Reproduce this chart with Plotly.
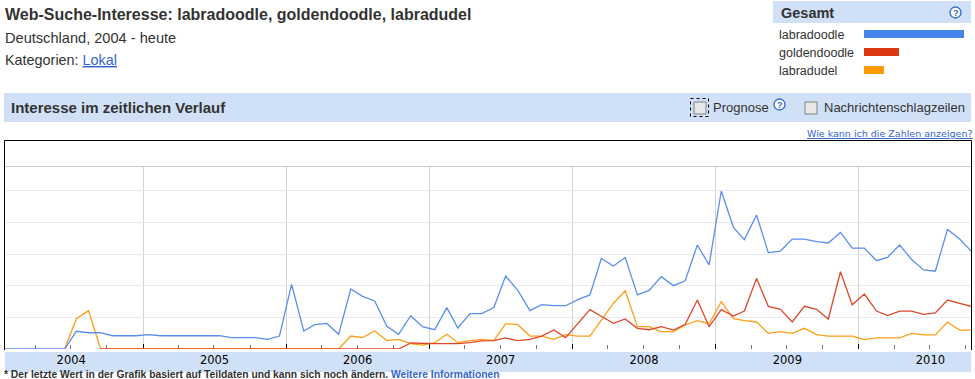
import plotly.graph_objects as go
import pandas as pd

W, H = 975, 379
months = pd.date_range("2004-01-01", periods=82, freq="MS") + pd.Timedelta(days=14)
labradoodle = [0,0,0,0,0,0,11.2,10.3,10.3,8.4,8.4,8.4,9.1,8.4,8.4,8.4,8.4,8.4,8.4,7.2,7.2,7.2,6.1,8.2,40.9,11.4,15.4,16.2,
 9.3,38,33.3,30.4,14.3,9.3,21.1,14.1,12.2,26.2,13.3,22.4,22.4,26.2,46.2,37.1,24.3,28.1,27.4,27.4,31.2,34.2,57.3,52.5,57.9,34.2,37.1,
 45.8,40.1,43.2,65.8,53.2,100,77,69.2,84.8,61,62,69.6,69.6,67.9,67.1,73.8,63.9,63.9,55.9,58,65.8,56.8,50,49.2,75.7,69.6,61.8]
goldendoodle = [0]*34 + [3.8,3.4,3.4,3.4,3.4,4,5.1,5.3,7,5.3,6.1,8.2,12,7.2,16,24.9,20.7,16.2,19,13.1,12.2,
 14.1,12,15.6,31,14.1,24.9,20.9,24,44.7,27,25.1,17.1,27,25.1,19,48.9,28,34.8,24,21.1,24,24,21.9,22.8,31,28.9,27]
labradudel = [0,0,0,0,0,0,19.2,24.3] + [0]*21 + [8.2,7.2,11.4,5.3,6.1,3.4,2.5,4,9.3,4,5.3,6.1,5.3,16,15.4,8.2,8.2,6.1,9.1,8.2,8.2,18.5,29,36.9,14.1,14.1,
 11,11,15.2,17.9,16,30,19.2,17.9,17.1,9.9,11,9.9,13.1,9.1,8.2,8.2,8.2,5.9,7,7,7,9.9,8.9,8.9,17.1,12,12]
series_names = ["labradoodle", "goldendoodle", "labradudel"]
series_colors = ["#5a8ff0", "#e0482a", "#ff9e16"]
totals = [100, 35, 20]
total_colors = ["#4684ee", "#dc3912", "#ff9900"]

BAND = "#d0e1f7"
TEXT = "#333333"
LINK = "#3366cc"
def fx(p): return p / W
def fy(p): return 1 - p / H

fig = go.Figure()
fig.add_trace(go.Scatter(x=months[5:], y=labradudel[5:], mode="lines", cliponaxis=False, line=dict(color=series_colors[2], width=1.3), showlegend=False, name=series_names[2]))
fig.add_trace(go.Scatter(x=months, y=labradoodle, mode="lines", cliponaxis=False, line=dict(color=series_colors[0], width=1.3), showlegend=False, name=series_names[0]))
fig.add_trace(go.Scatter(x=months[8:], y=goldendoodle[8:], mode="lines", cliponaxis=False, line=dict(color=series_colors[1], width=1.3), showlegend=False, name=series_names[1]))
fig.add_trace(go.Bar(x=totals, y=series_names, orientation="h", marker=dict(color=total_colors, line=dict(width=0)), width=0.44, xaxis="x2", yaxis="y2", showlegend=False))

fig.update_layout(
    width=W, height=H, margin=dict(l=0, r=0, t=0, b=0), paper_bgcolor="white", plot_bgcolor="white",
    font=dict(family="Liberation Sans, Arial", color=TEXT),
    xaxis=dict(type="date", domain=[fx(5), fx(971)], range=["2004-01-15", "2010-10-14"], dtick="M12", tick0="2004-01-01",
               ticklabelmode="period", tickformat="%Y", ticks="inside", ticklen=5, tickcolor="#000000", tickwidth=1,
               showgrid=True, gridcolor="#ced4ce", gridwidth=1, showline=False, zeroline=False, fixedrange=True,
               tickfont=dict(family="DejaVu Sans", size=11.5, color="#000000"), ticklabelstandoff=2,
               minor=dict(dtick="M3", tick0="2004-01-01", ticks="inside", ticklen=4, tickcolor="#777777", showgrid=False), layer="below traces"),
    yaxis=dict(domain=[fy(349), fy(166.5)], range=[0, 115.5], tickvals=[0,20,40,60,80,100], showticklabels=False, ticks="",
               showgrid=True, gridcolor="#e9e9f5", gridwidth=1, zeroline=False, fixedrange=True, layer="below traces"),
    xaxis2=dict(domain=[fx(864), fx(964)], range=[0, 100], visible=False, anchor="y2", fixedrange=True),
    yaxis2=dict(domain=[fy(79), fy(25)], autorange="reversed", anchor="x2", showline=False, showgrid=False, ticks="", showticklabels=False, fixedrange=True, visible=False),
)

def rect(x0, y0, x1, y1, fill=BAND, line=None, lw=1, dash=None, layer="below"):
    fig.add_shape(type="rect", xref="paper", yref="paper", x0=fx(x0), x1=fx(x1), y0=fy(y0), y1=fy(y1), fillcolor=fill,
                  line=dict(color=line, width=lw, dash=dash) if line else dict(width=0), layer=layer)
def hline(x0, y0, x1, y1, color):
    fig.add_shape(type="line", xref="paper", yref="paper", x0=fx(x0), x1=fx(x1), y0=fy(y0), y1=fy(y1), line=dict(color=color, width=1), layer="below")
def text(x, y, s, size=14, color=TEXT, anchor="left", family=None, bold=False):
    t = f"<b>{s}</b>" if bold else s
    f = dict(size=size, color=color)
    if family: f["family"] = family
    fig.add_annotation(xref="paper", yref="paper", x=fx(x), y=fy(y), text=t, showarrow=False, xanchor=anchor, yanchor="middle", font=f, borderpad=0, borderwidth=0)

# header and side panels
rect(773, 1, 971, 23)
rect(4, 93, 971, 122)
rect(5, 352, 971, 372)
# plot frame (open at the bottom) and the chart's top rule
hline(5, 166.5, 971, 166.5, "#cccccc")
hline(4.5, 140.5, 971.5, 140.5, "#000000")
hline(4.5, 140.5, 4.5, 350, "#000000")
hline(971.5, 140.5, 971.5, 350, "#000000")

text(5, 14.5, "Web-Suche-Interesse: labradoodle, goldendoodle, labradudel", size=16, bold=True)
text(5, 37.5, "Deutschland, 2004 - heute", size=14.6)
text(5, 60, 'Kategorien: <span style="color:#3366cc"><u>Lokal</u></span>', size=14.4)
text(11, 107, "Interesse im zeitlichen Verlauf", size=15, bold=True)
text(781, 13, "Gesamt", size=14.5, bold=True)
for name, yy in zip(series_names, [34.5, 52.5, 70.5]):
    text(779, yy, name, size=12.5)
# help icons
for cx, cy in [(955.5, 12.5), (779.5, 104.5)]:
    fig.add_shape(type="circle", xref="paper", yref="paper", x0=fx(cx-5.5), x1=fx(cx+5.5), y0=fy(cy-5.5), y1=fy(cy+5.5), line=dict(color=LINK, width=1.3), fillcolor="white", layer="above")
    text(cx, cy+0.5, "?", size=9, color=LINK, anchor="center", bold=True)
# checkboxes
rect(690.5, 98.5, 708.5, 116.5, fill="rgba(0,0,0,0)", line="#000000", dash="dot")
for x0 in [694, 805]:
    rect(x0, 102, x0+12, 114, fill="#e8e8e8", line="#808080", layer="above")
text(713, 107.5, "Prognose", size=13)
text(824, 107.5, "Nachrichtenschlagzeilen", size=13)
text(972, 133.5, '<u>Wie kann ich die Zahlen anzeigen?</u>', size=9.5, color=LINK, anchor="right", family="DejaVu Sans")
text(4, 374.5, '* Der letzte Wert in der Grafik basiert auf Teildaten und kann sich noch ändern. <span style="color:#3366cc">Weitere Informationen</span>', size=10.3, bold=True)

fig.write_html("out.html", config=dict(displayModeBar=False), post_script="document.body.style.margin='0';document.body.style.overflow='hidden';")
